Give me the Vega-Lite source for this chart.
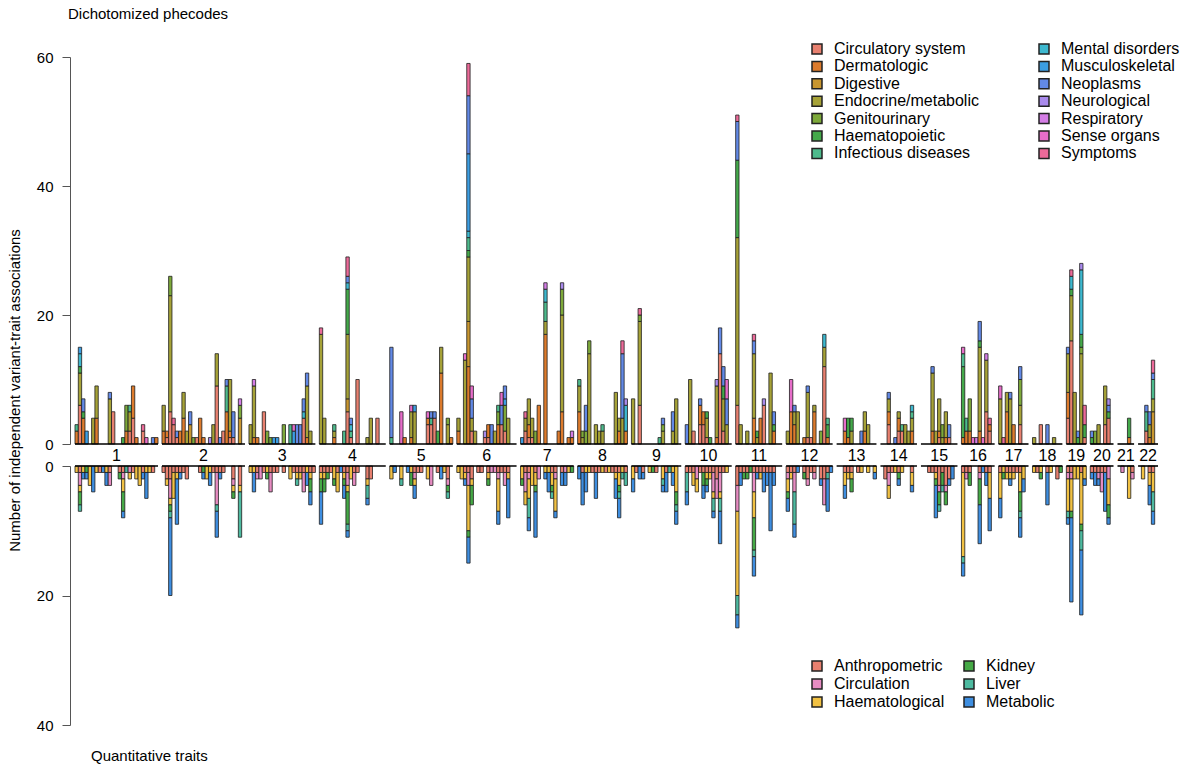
{
  "$schema": "https://vega.github.io/schema/vega-lite/v6.json",
  "background": "white",
  "padding": {"left": 7, "top": 7, "right": 5, "bottom": 5},
  "bounds": "flush",
  "spacing": 22,
  "config": {
    "font": "Liberation Sans",
    "view": {"stroke": null},
    "axis": {"grid": false, "labelFontSize": 15, "labelColor": "#000", "tickSize": 8, "labelPadding": 9, "domainColor": "#555", "tickColor": "#555", "titleFontWeight": "normal", "titleFontSize": 15, "titleColor": "#000"},
    "legend": {"labelFontSize": 16, "labelColor": "#000", "symbolType": "square", "symbolSize": 100, "symbolStrokeColor": "#222", "symbolStrokeWidth": 1.5, "symbolOpacity": 1, "labelOffset": 9, "rowPadding": 1.4}
  },
  "datasets": {
    "phe": [
      {"g":0.5,"Dermatologic":2,"Infectious diseases":1},
      {"g":1.5,"Circulatory system":6,"Endocrine/metabolic":5,"Haematopoietic":1,"Mental disorders":2,"Musculoskeletal":1},
      {"g":2.5,"Dermatologic":4,"Haematopoietic":1,"Neoplasms":2},
      {"g":3.5,"Musculoskeletal":2},
      {"g":5.5,"Endocrine/metabolic":4},
      {"g":6.5,"Dermatologic":4,"Endocrine/metabolic":5},
      {"g":10.5,"Endocrine/metabolic":7,"Neoplasms":1},
      {"g":11.5,"Circulatory system":5},
      {"g":14.5,"Haematopoietic":1},
      {"g":15.5,"Dermatologic":2,"Genitourinary":4},
      {"g":16.5,"Circulatory system":2,"Infectious diseases":1,"Endocrine/metabolic":3},
      {"g":17.5,"Circulatory system":4,"Dermatologic":5},
      {"g":18.5,"Dermatologic":1},
      {"g":20.5,"Circulatory system":2,"Symptoms":1},
      {"g":21.5,"Sense organs":1},
      {"g":23.5,"Neoplasms":1},
      {"g":24.5,"Dermatologic":1},
      {"g":26.7,"Dermatologic":2,"Endocrine/metabolic":4},
      {"g":27.7,"Circulatory system":1,"Dermatologic":1},
      {"g":28.7,"Circulatory system":5,"Endocrine/metabolic":18,"Genitourinary":3},
      {"g":29.7,"Circulatory system":3,"Symptoms":1},
      {"g":30.7,"Circulatory system":1,"Neoplasms":1},
      {"g":31.7,"Dermatologic":2},
      {"g":32.7,"Dermatologic":4,"Endocrine/metabolic":4},
      {"g":33.7,"Endocrine/metabolic":2},
      {"g":34.7,"Digestive":3,"Neoplasms":2},
      {"g":35.7,"Genitourinary":1},
      {"g":36.7,"Circulatory system":1},
      {"g":37.7,"Dermatologic":4},
      {"g":38.7,"Dermatologic":1},
      {"g":40.7,"Neurological":1},
      {"g":41.7,"Endocrine/metabolic":3},
      {"g":42.7,"Circulatory system":9,"Endocrine/metabolic":5},
      {"g":43.7,"Neoplasms":1},
      {"g":44.7,"Circulatory system":2},
      {"g":45.7,"Dermatologic":5,"Infectious diseases":4,"Neoplasms":1},
      {"g":46.7,"Circulatory system":1,"Dermatologic":1,"Endocrine/metabolic":8},
      {"g":47.7,"Circulatory system":1,"Neoplasms":4},
      {"g":49.7,"Digestive":4,"Genitourinary":2,"Respiratory":1},
      {"g":52.9,"Endocrine/metabolic":3},
      {"g":53.9,"Dermatologic":1,"Endocrine/metabolic":8,"Respiratory":1},
      {"g":54.9,"Dermatologic":1},
      {"g":56.9,"Circulatory system":5},
      {"g":57.9,"Genitourinary":2},
      {"g":58.9,"Genitourinary":1},
      {"g":59.9,"Musculoskeletal":1},
      {"g":60.9,"Musculoskeletal":1},
      {"g":62.9,"Genitourinary":3},
      {"g":64.9,"Infectious diseases":3},
      {"g":65.9,"Musculoskeletal":2,"Sense organs":1},
      {"g":66.9,"Neoplasms":3},
      {"g":67.9,"Neoplasms":3},
      {"g":68.9,"Circulatory system":4,"Mental disorders":1,"Neoplasms":2},
      {"g":69.9,"Dermatologic":1,"Endocrine/metabolic":8,"Neoplasms":2},
      {"g":70.9,"Endocrine/metabolic":2},
      {"g":74.1,"Endocrine/metabolic":17,"Symptoms":1},
      {"g":75.1,"Endocrine/metabolic":4},
      {"g":78.1,"Dermatologic":1,"Endocrine/metabolic":1,"Infectious diseases":1},
      {"g":81.1,"Infectious diseases":2},
      {"g":82.1,"Circulatory system":5,"Digestive":2,"Endocrine/metabolic":10,"Haematopoietic":7,"Mental disorders":1,"Neoplasms":1,"Symptoms":3},
      {"g":83.1,"Circulatory system":1,"Infectious diseases":1,"Mental disorders":1,"Neoplasms":1},
      {"g":85.1,"Circulatory system":10},
      {"g":88.1,"Endocrine/metabolic":1},
      {"g":89.1,"Endocrine/metabolic":4},
      {"g":91.1,"Circulatory system":4},
      {"g":95.3,"Infectious diseases":1,"Neoplasms":14},
      {"g":98.3,"Sense organs":5},
      {"g":99.3,"Dermatologic":1},
      {"g":101.3,"Dermatologic":1,"Endocrine/metabolic":4,"Sense organs":1},
      {"g":102.3,"Musculoskeletal":1,"Endocrine/metabolic":5},
      {"g":106.3,"Circulatory system":3,"Dermatologic":1,"Sense organs":1},
      {"g":107.3,"Circulatory system":3,"Infectious diseases":1,"Neoplasms":1},
      {"g":108.3,"Circulatory system":4,"Neoplasms":1},
      {"g":109.3,"Haematopoietic":2},
      {"g":110.3,"Dermatologic":11,"Endocrine/metabolic":4},
      {"g":112.3,"Genitourinary":1,"Endocrine/metabolic":3},
      {"g":113.3,"Dermatologic":1},
      {"g":115.5,"Dermatologic":2,"Endocrine/metabolic":2},
      {"g":117.5,"Endocrine/metabolic":13,"Sense organs":1},
      {"g":118.5,"Dermatologic":12,"Digestive":7,"Endocrine/metabolic":10,"Haematopoietic":1,"Infectious diseases":2,"Mental disorders":1,"Musculoskeletal":12,"Neoplasms":9,"Symptoms":5},
      {"g":119.5,"Circulatory system":2,"Endocrine/metabolic":2,"Neoplasms":3,"Sense organs":2},
      {"g":120.5,"Endocrine/metabolic":2},
      {"g":123.5,"Circulatory system":1,"Neurological":1},
      {"g":124.5,"Circulatory system":1,"Dermatologic":2},
      {"g":125.5,"Neoplasms":3},
      {"g":126.5,"Endocrine/metabolic":2},
      {"g":127.5,"Dermatologic":3,"Genitourinary":2,"Infectious diseases":1},
      {"g":128.5,"Circulatory system":3,"Neoplasms":3,"Sense organs":2},
      {"g":129.5,"Circulatory system":2,"Genitourinary":4,"Musculoskeletal":1,"Neoplasms":2},
      {"g":130.5,"Endocrine/metabolic":4},
      {"g":134.7,"Musculoskeletal":1},
      {"g":135.7,"Circulatory system":2,"Endocrine/metabolic":2,"Symptoms":1},
      {"g":136.7,"Circulatory system":1,"Dermatologic":2,"Endocrine/metabolic":4},
      {"g":137.7,"Circulatory system":1,"Endocrine/metabolic":3},
      {"g":138.7,"Genitourinary":2},
      {"g":139.7,"Dermatologic":6},
      {"g":141.7,"Dermatologic":17,"Endocrine/metabolic":2,"Infectious diseases":3,"Mental disorders":2,"Respiratory":1},
      {"g":145.7,"Dermatologic":2},
      {"g":146.7,"Dermatologic":5,"Genitourinary":4,"Endocrine/metabolic":15,"Neurological":1},
      {"g":148.7,"Dermatologic":1},
      {"g":149.7,"Dermatologic":1,"Respiratory":1},
      {"g":151.9,"Dermatologic":5,"Infectious diseases":1,"Endocrine/metabolic":4},
      {"g":152.9,"Genitourinary":1,"Endocrine/metabolic":1},
      {"g":153.9,"Genitourinary":2,"Neoplasms":4},
      {"g":154.9,"Endocrine/metabolic":14,"Genitourinary":2},
      {"g":156.9,"Endocrine/metabolic":3},
      {"g":157.9,"Endocrine/metabolic":2},
      {"g":158.9,"Infectious diseases":1,"Endocrine/metabolic":2},
      {"g":162.9,"Endocrine/metabolic":8},
      {"g":163.9,"Dermatologic":2,"Endocrine/metabolic":2},
      {"g":164.9,"Endocrine/metabolic":4,"Neoplasms":10,"Symptoms":2},
      {"g":165.9,"Dermatologic":2,"Mental disorders":4,"Neurological":1},
      {"g":168.1,"Endocrine/metabolic":7},
      {"g":170.1,"Circulatory system":6,"Genitourinary":1,"Endocrine/metabolic":13,"Symptoms":1},
      {"g":176.1,"Infectious diseases":1},
      {"g":177.1,"Genitourinary":1,"Endocrine/metabolic":2,"Neoplasms":1},
      {"g":180.1,"Endocrine/metabolic":2,"Neoplasms":3},
      {"g":181.1,"Endocrine/metabolic":7},
      {"g":184.3,"Neoplasms":3},
      {"g":185.3,"Endocrine/metabolic":10},
      {"g":186.3,"Circulatory system":2},
      {"g":188.3,"Circulatory system":3,"Dermatologic":3,"Neoplasms":1},
      {"g":189.3,"Circulatory system":3,"Dermatologic":2},
      {"g":190.3,"Circulatory system":1,"Endocrine/metabolic":3,"Haematopoietic":1},
      {"g":191.3,"Haematopoietic":1},
      {"g":193.3,"Dermatologic":1,"Endocrine/metabolic":8,"Neurological":1},
      {"g":194.3,"Circulatory system":14,"Neoplasms":4},
      {"g":195.3,"Circulatory system":2,"Endocrine/metabolic":5,"Haematopoietic":2,"Neoplasms":3},
      {"g":196.3,"Endocrine/metabolic":3,"Neoplasms":4,"Sense organs":3},
      {"g":199.5,"Circulatory system":6,"Endocrine/metabolic":26,"Neoplasms":6,"Symptoms":1,"Haematopoietic":12},
      {"g":200.5,"Endocrine/metabolic":3},
      {"g":202.5,"Endocrine/metabolic":2},
      {"g":204.5,"Dermatologic":4,"Endocrine/metabolic":10,"Neoplasms":2,"Symptoms":1},
      {"g":205.5,"Haematopoietic":1,"Endocrine/metabolic":1},
      {"g":206.5,"Dermatologic":4},
      {"g":207.5,"Circulatory system":6,"Neurological":1},
      {"g":209.5,"Endocrine/metabolic":11},
      {"g":210.5,"Dermatologic":2,"Haematopoietic":1,"Neoplasms":2},
      {"g":214.7,"Endocrine/metabolic":2},
      {"g":215.7,"Dermatologic":5,"Sense organs":5},
      {"g":216.7,"Dermatologic":3,"Endocrine/metabolic":2,"Neoplasms":1},
      {"g":217.7,"Endocrine/metabolic":5},
      {"g":219.7,"Dermatologic":1},
      {"g":220.7,"Circulatory system":1,"Endocrine/metabolic":7,"Neoplasms":1},
      {"g":221.7,"Circulatory system":1},
      {"g":222.7,"Dermatologic":5,"Endocrine/metabolic":1},
      {"g":224.7,"Genitourinary":2},
      {"g":225.7,"Circulatory system":12,"Mental disorders":2,"Endocrine/metabolic":3},
      {"g":226.7,"Dermatologic":1,"Haematopoietic":2,"Infectious diseases":1},
      {"g":231.9,"Dermatologic":2,"Sense organs":2},
      {"g":232.9,"Dermatologic":1,"Haematopoietic":3},
      {"g":233.9,"Haematopoietic":2,"Endocrine/metabolic":2},
      {"g":236.9,"Neoplasms":2},
      {"g":237.9,"Dermatologic":2,"Endocrine/metabolic":3},
      {"g":238.9,"Endocrine/metabolic":3},
      {"g":245.1,"Circulatory system":3,"Dermatologic":2,"Endocrine/metabolic":2,"Neoplasms":1},
      {"g":247.1,"Neoplasms":1},
      {"g":248.1,"Circulatory system":2,"Dermatologic":2,"Endocrine/metabolic":1},
      {"g":249.1,"Circulatory system":2,"Infectious diseases":1},
      {"g":250.1,"Endocrine/metabolic":3},
      {"g":251.1,"Endocrine/metabolic":2},
      {"g":252.1,"Dermatologic":2,"Endocrine/metabolic":2,"Infectious diseases":1,"Mental disorders":1},
      {"g":258.3,"Dermatologic":2,"Endocrine/metabolic":9,"Neoplasms":1},
      {"g":259.3,"Endocrine/metabolic":2},
      {"g":260.3,"Circulatory system":1,"Dermatologic":1,"Endocrine/metabolic":5},
      {"g":261.3,"Endocrine/metabolic":1,"Genitourinary":2},
      {"g":262.3,"Dermatologic":1,"Endocrine/metabolic":4},
      {"g":263.3,"Circulatory system":1,"Neoplasms":2},
      {"g":267.5,"Dermatologic":1,"Haematopoietic":11,"Infectious diseases":2,"Sense organs":1},
      {"g":268.5,"Dermatologic":2,"Infectious diseases":2},
      {"g":269.5,"Genitourinary":5,"Dermatologic":2},
      {"g":270.5,"Sense organs":1},
      {"g":271.5,"Respiratory":1},
      {"g":272.5,"Dermatologic":2,"Haematopoietic":1,"Endocrine/metabolic":13,"Neoplasms":3},
      {"g":273.5,"Sense organs":1},
      {"g":274.5,"Circulatory system":5,"Endocrine/metabolic":8,"Respiratory":1},
      {"g":275.5,"Circulatory system":2,"Dermatologic":1,"Symptoms":1},
      {"g":278.7,"Endocrine/metabolic":7,"Sense organs":2},
      {"g":279.7,"Symptoms":1},
      {"g":280.7,"Dermatologic":5,"Endocrine/metabolic":3},
      {"g":281.7,"Endocrine/metabolic":7,"Neoplasms":1},
      {"g":282.7,"Dermatologic":3},
      {"g":284.7,"Circulatory system":3,"Endocrine/metabolic":3,"Genitourinary":4,"Neoplasms":2},
      {"g":288.9,"Endocrine/metabolic":1},
      {"g":290.9,"Circulatory system":3},
      {"g":292.9,"Neoplasms":3},
      {"g":294.9,"Endocrine/metabolic":1},
      {"g":299.1,"Circulatory system":4,"Dermatologic":4,"Endocrine/metabolic":6,"Neoplasms":1},
      {"g":300.1,"Circulatory system":16,"Haematopoietic":1,"Mental disorders":2,"Endocrine/metabolic":7,"Symptoms":1},
      {"g":301.1,"Endocrine/metabolic":8},
      {"g":302.1,"Haematopoietic":1,"Neoplasms":1},
      {"g":303.1,"Haematopoietic":2,"Mental disorders":10,"Endocrine/metabolic":14,"Neurological":1,"Genitourinary":1},
      {"g":304.1,"Circulatory system":1,"Haematopoietic":2,"Symptoms":3},
      {"g":306.3,"Haematopoietic":1,"Neoplasms":1},
      {"g":307.3,"Genitourinary":2},
      {"g":308.3,"Endocrine/metabolic":3},
      {"g":310.3,"Circulatory system":3,"Endocrine/metabolic":6},
      {"g":311.3,"Circulatory system":4,"Haematopoietic":1,"Neoplasms":1,"Neurological":1},
      {"g":317.5,"Dermatologic":1,"Haematopoietic":3},
      {"g":322.7,"Circulatory system":2,"Infectious diseases":3,"Neoplasms":1},
      {"g":323.7,"Dermatologic":1,"Endocrine/metabolic":2,"Neoplasms":2},
      {"g":324.7,"Digestive":5,"Endocrine/metabolic":2,"Infectious diseases":3,"Symptoms":2,"Neoplasms":1}
    ],
    "qt": [
      {"g":0.5,"Haematological":1},
      {"g":1.5,"Anthropometric":1,"Circulation":2,"Haematological":1,"Kidney":2,"Liver":1},
      {"g":2.5,"Haematological":1,"Metabolic":1},
      {"g":3.5,"Kidney":1,"Metabolic":1},
      {"g":4.5,"Haematological":3},
      {"g":5.5,"Metabolic":4},
      {"g":6.5,"Haematological":1},
      {"g":7.5,"Anthropometric":1},
      {"g":8.5,"Metabolic":1},
      {"g":9.5,"Haematological":1,"Metabolic":2},
      {"g":10.5,"Anthropometric":1,"Circulation":2},
      {"g":13.5,"Anthropometric":1,"Kidney":1},
      {"g":14.5,"Anthropometric":1,"Circulation":1,"Haematological":2,"Kidney":3,"Metabolic":1},
      {"g":15.5,"Liver":1},
      {"g":16.5,"Circulation":1,"Haematological":1},
      {"g":17.5,"Anthropometric":1},
      {"g":18.5,"Haematological":2},
      {"g":19.5,"Haematological":3},
      {"g":20.5,"Anthropometric":1,"Metabolic":1},
      {"g":21.5,"Haematological":1,"Metabolic":4},
      {"g":22.5,"Haematological":1},
      {"g":23.5,"Anthropometric":1},
      {"g":26.7,"Anthropometric":1},
      {"g":27.7,"Anthropometric":2,"Haematological":1},
      {"g":28.7,"Anthropometric":2,"Circulation":3,"Haematological":1,"Kidney":1,"Liver":1,"Metabolic":12},
      {"g":29.7,"Anthropometric":1,"Haematological":4},
      {"g":30.7,"Anthropometric":1,"Haematological":1,"Metabolic":7},
      {"g":31.7,"Anthropometric":1,"Metabolic":1},
      {"g":32.7,"Anthropometric":1},
      {"g":33.7,"Anthropometric":2},
      {"g":37.7,"Anthropometric":1},
      {"g":38.7,"Kidney":1,"Metabolic":1},
      {"g":39.7,"Haematological":2},
      {"g":40.7,"Haematological":1,"Metabolic":2},
      {"g":41.7,"Anthropometric":1},
      {"g":42.7,"Anthropometric":1,"Circulation":5,"Liver":1,"Metabolic":4},
      {"g":43.7,"Anthropometric":1,"Metabolic":1},
      {"g":44.7,"Anthropometric":1},
      {"g":47.7,"Anthropometric":2,"Circulation":1,"Haematological":1,"Kidney":1},
      {"g":49.7,"Anthropometric":3,"Haematological":1,"Liver":7},
      {"g":52.9,"Haematological":1},
      {"g":53.9,"Haematological":1,"Metabolic":3},
      {"g":54.9,"Anthropometric":1,"Circulation":1},
      {"g":55.9,"Circulation":2},
      {"g":56.9,"Anthropometric":1},
      {"g":57.9,"Haematological":1,"Kidney":1},
      {"g":58.9,"Anthropometric":1,"Circulation":3},
      {"g":59.9,"Anthropometric":1},
      {"g":60.9,"Anthropometric":1},
      {"g":62.9,"Anthropometric":1},
      {"g":64.9,"Haematological":2},
      {"g":65.9,"Anthropometric":1},
      {"g":66.9,"Anthropometric":1,"Haematological":1,"Liver":1},
      {"g":67.9,"Anthropometric":1,"Haematological":1},
      {"g":68.9,"Anthropometric":1,"Circulation":3},
      {"g":69.9,"Haematological":1,"Metabolic":2},
      {"g":70.9,"Anthropometric":1,"Haematological":1,"Kidney":2,"Metabolic":2},
      {"g":71.9,"Anthropometric":1},
      {"g":74.1,"Anthropometric":1,"Haematological":1,"Kidney":2,"Metabolic":5},
      {"g":75.1,"Anthropometric":1,"Haematological":1,"Kidney":2},
      {"g":76.1,"Anthropometric":1,"Kidney":1},
      {"g":77.1,"Anthropometric":1},
      {"g":78.1,"Haematological":2,"Kidney":1},
      {"g":79.1,"Anthropometric":1,"Haematological":3},
      {"g":80.1,"Metabolic":1},
      {"g":81.1,"Anthropometric":1,"Haematological":1,"Kidney":1,"Metabolic":2},
      {"g":82.1,"Anthropometric":1,"Circulation":2,"Haematological":1,"Kidney":5,"Liver":1,"Metabolic":1},
      {"g":83.1,"Haematological":2},
      {"g":84.1,"Anthropometric":1,"Circulation":2},
      {"g":85.1,"Anthropometric":1},
      {"g":88.1,"Anthropometric":2,"Haematological":1,"Liver":2,"Metabolic":1},
      {"g":89.1,"Anthropometric":2},
      {"g":95.3,"Haematological":2},
      {"g":96.3,"Metabolic":1},
      {"g":98.3,"Haematological":2,"Liver":1},
      {"g":100.3,"Metabolic":1},
      {"g":101.3,"Haematological":1,"Kidney":2},
      {"g":102.3,"Anthropometric":1,"Circulation":1,"Haematological":1,"Metabolic":2},
      {"g":103.3,"Anthropometric":1},
      {"g":104.3,"Anthropometric":1},
      {"g":106.3,"Haematological":2},
      {"g":107.3,"Circulation":3},
      {"g":109.3,"Anthropometric":1},
      {"g":110.3,"Metabolic":2},
      {"g":111.3,"Haematological":1},
      {"g":112.3,"Anthropometric":2,"Circulation":1,"Kidney":1,"Liver":1},
      {"g":115.5,"Haematological":1},
      {"g":116.5,"Haematological":2},
      {"g":117.5,"Anthropometric":1,"Haematological":1,"Metabolic":1},
      {"g":118.5,"Anthropometric":1,"Circulation":2,"Haematological":7,"Kidney":1,"Metabolic":4},
      {"g":119.5,"Anthropometric":2,"Haematological":1,"Kidney":3},
      {"g":121.5,"Anthropometric":1},
      {"g":122.5,"Anthropometric":1},
      {"g":124.5,"Anthropometric":1,"Haematological":1,"Kidney":1},
      {"g":125.5,"Circulation":1},
      {"g":126.5,"Circulation":1},
      {"g":127.5,"Anthropometric":1,"Circulation":1,"Haematological":5,"Metabolic":2},
      {"g":128.5,"Anthropometric":1},
      {"g":129.5,"Anthropometric":1,"Circulation":2},
      {"g":130.5,"Anthropometric":1,"Haematological":1,"Metabolic":6},
      {"g":134.7,"Haematological":2,"Kidney":1},
      {"g":135.7,"Anthropometric":1,"Circulation":3,"Haematological":2},
      {"g":136.7,"Anthropometric":1,"Circulation":1,"Haematological":3,"Liver":3,"Metabolic":2},
      {"g":137.7,"Haematological":3},
      {"g":138.7,"Anthropometric":1,"Haematological":2,"Kidney":1,"Metabolic":7},
      {"g":139.7,"Circulation":2},
      {"g":141.7,"Haematological":1,"Metabolic":1},
      {"g":142.7,"Haematological":1,"Metabolic":3},
      {"g":143.7,"Anthropometric":1,"Haematological":2,"Kidney":1,"Liver":1},
      {"g":144.7,"Anthropometric":1,"Circulation":1,"Haematological":5,"Metabolic":1},
      {"g":146.7,"Anthropometric":1,"Metabolic":2},
      {"g":147.7,"Circulation":1,"Metabolic":2},
      {"g":148.7,"Haematological":1},
      {"g":149.7,"Kidney":1},
      {"g":151.9,"Metabolic":2},
      {"g":152.9,"Anthropometric":1,"Metabolic":5},
      {"g":153.9,"Haematological":1,"Metabolic":3},
      {"g":154.9,"Haematological":1},
      {"g":155.9,"Anthropometric":1},
      {"g":156.9,"Anthropometric":1,"Metabolic":4},
      {"g":157.9,"Anthropometric":1},
      {"g":158.9,"Haematological":1},
      {"g":159.9,"Anthropometric":1},
      {"g":160.9,"Haematological":1},
      {"g":161.9,"Anthropometric":1},
      {"g":162.9,"Anthropometric":1,"Haematological":1,"Metabolic":3},
      {"g":163.9,"Anthropometric":1,"Haematological":2,"Kidney":1,"Liver":1,"Metabolic":3},
      {"g":164.9,"Haematological":1,"Liver":1},
      {"g":165.9,"Anthropometric":1,"Liver":2},
      {"g":168.1,"Haematological":2,"Metabolic":2},
      {"g":169.1,"Anthropometric":1},
      {"g":170.1,"Metabolic":2},
      {"g":171.1,"Anthropometric":1,"Metabolic":1},
      {"g":173.1,"Haematological":1},
      {"g":174.1,"Kidney":1},
      {"g":175.1,"Anthropometric":1},
      {"g":177.1,"Haematological":2,"Liver":1,"Metabolic":1},
      {"g":178.1,"Anthropometric":1,"Metabolic":3},
      {"g":179.1,"Liver":1},
      {"g":180.1,"Haematological":1,"Metabolic":2},
      {"g":181.1,"Haematological":4,"Kidney":2,"Liver":1,"Metabolic":2},
      {"g":184.3,"Anthropometric":1,"Liver":3,"Metabolic":2},
      {"g":185.3,"Anthropometric":1},
      {"g":186.3,"Anthropometric":1,"Haematological":2},
      {"g":187.3,"Circulation":2,"Haematological":2},
      {"g":188.3,"Anthropometric":1},
      {"g":189.3,"Anthropometric":1,"Kidney":2,"Metabolic":2},
      {"g":190.3,"Anthropometric":1,"Haematological":1,"Kidney":1,"Metabolic":1},
      {"g":191.3,"Anthropometric":1,"Haematological":1},
      {"g":192.3,"Anthropometric":1,"Circulation":3,"Haematological":1,"Liver":2,"Metabolic":1},
      {"g":193.3,"Anthropometric":2,"Circulation":3},
      {"g":194.3,"Anthropometric":1,"Circulation":3,"Haematological":1,"Liver":2,"Metabolic":5},
      {"g":195.3,"Anthropometric":1},
      {"g":196.3,"Haematological":1},
      {"g":199.5,"Anthropometric":3,"Circulation":4,"Haematological":13,"Liver":3,"Metabolic":2},
      {"g":200.5,"Anthropometric":1,"Metabolic":2},
      {"g":201.5,"Anthropometric":1,"Kidney":1},
      {"g":202.5,"Anthropometric":1,"Kidney":1},
      {"g":203.5,"Kidney":1},
      {"g":204.5,"Anthropometric":1,"Circulation":3,"Haematological":4,"Kidney":5,"Liver":1,"Metabolic":3},
      {"g":205.5,"Anthropometric":1,"Metabolic":1},
      {"g":206.5,"Anthropometric":1,"Haematological":1},
      {"g":207.5,"Anthropometric":1,"Metabolic":3},
      {"g":208.5,"Anthropometric":1,"Metabolic":2},
      {"g":209.5,"Anthropometric":1,"Metabolic":9},
      {"g":210.5,"Anthropometric":1,"Metabolic":2},
      {"g":214.7,"Anthropometric":1,"Circulation":1,"Haematological":2,"Kidney":1,"Metabolic":2},
      {"g":215.7,"Anthropometric":1,"Haematological":1},
      {"g":216.7,"Anthropometric":1,"Circulation":3,"Liver":5,"Metabolic":2},
      {"g":217.7,"Metabolic":1},
      {"g":219.7,"Anthropometric":1,"Kidney":1},
      {"g":220.7,"Anthropometric":2,"Circulation":1},
      {"g":221.7,"Anthropometric":1},
      {"g":222.7,"Anthropometric":1,"Circulation":1},
      {"g":224.7,"Anthropometric":2,"Metabolic":1},
      {"g":225.7,"Anthropometric":2,"Circulation":4},
      {"g":226.7,"Anthropometric":1,"Liver":1,"Metabolic":5},
      {"g":227.7,"Metabolic":1},
      {"g":231.9,"Anthropometric":1,"Haematological":2,"Metabolic":2},
      {"g":232.9,"Anthropometric":1,"Haematological":1},
      {"g":233.9,"Anthropometric":1,"Haematological":1,"Kidney":2},
      {"g":235.9,"Anthropometric":1},
      {"g":236.9,"Haematological":1},
      {"g":238.9,"Haematological":1},
      {"g":240.9,"Haematological":1,"Metabolic":1},
      {"g":244.1,"Anthropometric":2},
      {"g":245.1,"Anthropometric":1,"Circulation":2,"Haematological":2},
      {"g":246.1,"Anthropometric":1},
      {"g":247.1,"Haematological":1},
      {"g":248.1,"Anthropometric":1,"Kidney":1,"Metabolic":1},
      {"g":249.1,"Haematological":1},
      {"g":252.1,"Anthropometric":1,"Haematological":2,"Metabolic":1},
      {"g":257.3,"Anthropometric":1},
      {"g":258.3,"Anthropometric":1},
      {"g":259.3,"Anthropometric":1,"Haematological":1,"Kidney":1,"Metabolic":5},
      {"g":260.3,"Anthropometric":3,"Circulation":1,"Kidney":2,"Liver":1},
      {"g":261.3,"Anthropometric":1,"Kidney":2,"Liver":1},
      {"g":262.3,"Anthropometric":3,"Circulation":1,"Kidney":2},
      {"g":263.3,"Anthropometric":2,"Metabolic":1},
      {"g":264.3,"Metabolic":2},
      {"g":267.5,"Anthropometric":1,"Haematological":13,"Liver":1,"Metabolic":2},
      {"g":268.5,"Anthropometric":1,"Circulation":1},
      {"g":269.5,"Anthropometric":1,"Kidney":2},
      {"g":272.5,"Anthropometric":1,"Circulation":1,"Kidney":4,"Metabolic":6},
      {"g":273.5,"Metabolic":1},
      {"g":274.5,"Anthropometric":1,"Metabolic":2},
      {"g":275.5,"Anthropometric":1,"Haematological":4,"Metabolic":5},
      {"g":278.7,"Anthropometric":1,"Haematological":4,"Metabolic":3},
      {"g":279.7,"Haematological":1,"Kidney":1},
      {"g":280.7,"Anthropometric":1,"Haematological":1},
      {"g":281.7,"Anthropometric":1,"Haematological":1,"Metabolic":1},
      {"g":282.7,"Anthropometric":1,"Haematological":1},
      {"g":283.7,"Anthropometric":1},
      {"g":284.7,"Anthropometric":1,"Haematological":3,"Kidney":3,"Liver":1,"Metabolic":3},
      {"g":285.7,"Haematological":2,"Metabolic":2},
      {"g":288.9,"Haematological":1},
      {"g":289.9,"Anthropometric":1},
      {"g":290.9,"Haematological":1,"Kidney":1},
      {"g":292.9,"Anthropometric":1,"Metabolic":5},
      {"g":293.9,"Haematological":1},
      {"g":295.9,"Anthropometric":2},
      {"g":296.9,"Kidney":1},
      {"g":299.1,"Anthropometric":1,"Circulation":1,"Haematological":5,"Liver":1,"Metabolic":1},
      {"g":300.1,"Anthropometric":1,"Circulation":1,"Haematological":5,"Kidney":1,"Metabolic":13},
      {"g":301.1,"Haematological":2},
      {"g":302.1,"Haematological":2},
      {"g":303.1,"Anthropometric":1,"Haematological":8,"Kidney":1,"Liver":3,"Metabolic":10},
      {"g":304.1,"Haematological":2,"Metabolic":1},
      {"g":306.3,"Anthropometric":1,"Metabolic":1},
      {"g":307.3,"Anthropometric":1,"Metabolic":2},
      {"g":308.3,"Anthropometric":1,"Circulation":1,"Metabolic":1},
      {"g":309.3,"Anthropometric":1,"Circulation":3},
      {"g":310.3,"Anthropometric":1,"Metabolic":6},
      {"g":311.3,"Circulation":2,"Haematological":4,"Kidney":2,"Metabolic":1},
      {"g":315.5,"Circulation":1},
      {"g":317.5,"Haematological":5},
      {"g":318.5,"Anthropometric":1,"Circulation":1},
      {"g":321.7,"Haematological":2},
      {"g":323.7,"Anthropometric":1,"Haematological":2,"Metabolic":3},
      {"g":324.7,"Anthropometric":1,"Haematological":3,"Liver":3,"Metabolic":2}
    ],
    "chrom": [
      {"chr":"1","start":0,"end":25,"mid":12.5},
      {"chr":"2","start":26.2,"end":51.2,"mid":38.7},
      {"chr":"3","start":52.4,"end":72.4,"mid":62.4},
      {"chr":"4","start":73.6,"end":93.6,"mid":83.6},
      {"chr":"5","start":94.8,"end":113.8,"mid":104.3},
      {"chr":"6","start":115,"end":133,"mid":124},
      {"chr":"7","start":134.2,"end":150.2,"mid":142.2},
      {"chr":"8","start":151.4,"end":166.4,"mid":158.9},
      {"chr":"9","start":167.6,"end":182.6,"mid":175.1},
      {"chr":"10","start":183.8,"end":197.8,"mid":190.8},
      {"chr":"11","start":199,"end":213,"mid":206},
      {"chr":"12","start":214.2,"end":228.2,"mid":221.2},
      {"chr":"13","start":229.4,"end":241.4,"mid":235.4},
      {"chr":"14","start":242.6,"end":253.6,"mid":248.1},
      {"chr":"15","start":254.8,"end":265.8,"mid":260.3},
      {"chr":"16","start":267,"end":277,"mid":272},
      {"chr":"17","start":278.2,"end":287.2,"mid":282.7},
      {"chr":"18","start":288.4,"end":297.4,"mid":292.9},
      {"chr":"19","start":298.6,"end":304.6,"mid":301.6},
      {"chr":"20","start":305.8,"end":312.8,"mid":309.3},
      {"chr":"21","start":314,"end":319,"mid":316.5},
      {"chr":"22","start":320.2,"end":326.2,"mid":323.2}
    ]
  },
  "vconcat": [
    {
      "width": 1093,
      "height": 387,
      "title": {"text": "Dichotomized phecodes", "anchor": "start", "frame": "group", "fontSize": 15, "fontWeight": "normal", "offset": 19, "dx": -2},
      "layer": [
        {
          "data": {"name": "phe"},
          "transform": [
            {"fold": ["Circulatory system","Dermatologic","Digestive","Endocrine/metabolic","Genitourinary","Haematopoietic","Infectious diseases","Mental disorders","Musculoskeletal","Neoplasms","Neurological","Respiratory","Sense organs","Symptoms"], "as": ["category","n"]},
            {"filter": "datum.n > 0"}
          ],
          "mark": {"type": "bar", "width": 3.35, "stroke": "#1e1e1e", "strokeWidth": 0.8},
          "encoding": {
            "x": {"field": "g", "type": "quantitative", "scale": {"domain": [0, 326.2], "nice": false, "zero": false}, "axis": null},
            "y": {"field": "n", "type": "quantitative", "stack": "zero", "scale": {"domain": [0, 60], "nice": false},
                  "axis": {"values": [0, 20, 40, 60], "title": "Number of independent variant-trait associations", "titleY": 333, "titlePadding": 14}},
            "order": {"field": "category", "sort": "ascending"},
            "color": {"field": "category", "type": "nominal",
              "scale": {"domain": ["Circulatory system","Dermatologic","Digestive","Endocrine/metabolic","Genitourinary","Haematopoietic","Infectious diseases","Mental disorders","Musculoskeletal","Neoplasms","Neurological","Respiratory","Sense organs","Symptoms"],
                        "range": ["#E8806F","#DD7B2C","#C9962F","#A6A237","#7DA93A","#44A94A","#4DBA8C","#3DB8CF","#3C9EE3","#6289E6","#A98AEC","#D47DE5","#E66DC9","#EC6A99"]},
              "legend": {"title": null, "orient": "none", "legendX": 739, "legendY": -16, "columns": 2, "columnPadding": 57}}
          }
        },
        {
          "data": {"name": "chrom"},
          "mark": {"type": "rule", "color": "#000", "strokeWidth": 1.6},
          "encoding": {"x": {"field": "start", "type": "quantitative"}, "x2": {"field": "end"}, "y": {"datum": 0}}
        },
        {
          "data": {"name": "chrom"},
          "mark": {"type": "text", "fontSize": 16, "baseline": "middle", "dy": 12, "color": "#000"},
          "encoding": {"x": {"field": "mid", "type": "quantitative"}, "y": {"datum": 0}, "text": {"field": "chr"}}
        }
      ]
    },
    {
      "width": 1093,
      "height": 259,
      "title": {"text": "Quantitative traits", "orient": "bottom", "anchor": "start", "frame": "group", "fontSize": 15, "fontWeight": "normal", "offset": 16, "dx": 21},
      "layer": [
        {
          "data": {"name": "qt"},
          "transform": [
            {"fold": ["Anthropometric","Circulation","Haematological","Kidney","Liver","Metabolic"], "as": ["category","n"]},
            {"filter": "datum.n > 0"}
          ],
          "mark": {"type": "bar", "width": 3.35, "stroke": "#1e1e1e", "strokeWidth": 0.8},
          "encoding": {
            "x": {"field": "g", "type": "quantitative", "scale": {"domain": [0, 326.2], "nice": false, "zero": false}, "axis": null},
            "y": {"field": "n", "type": "quantitative", "stack": "zero", "scale": {"domain": [0, 40], "nice": false, "reverse": true},
                  "axis": {"values": [0, 20, 40], "title": null}},
            "order": {"field": "category", "sort": "ascending"},
            "color": {"field": "category", "type": "nominal",
              "scale": {"domain": ["Anthropometric","Circulation","Haematological","Kidney","Liver","Metabolic"],
                        "range": ["#E8806F","#E78CC2","#F1C143","#45A946","#4DBAA0","#3E8EE0"]},
              "legend": {"title": null, "orient": "none", "legendX": 739, "legendY": 192, "columns": 2, "columnPadding": 16, "rowPadding": 2}}
          }
        },
        {
          "data": {"name": "chrom"},
          "mark": {"type": "rule", "color": "#000", "strokeWidth": 1.6},
          "encoding": {"x": {"field": "start", "type": "quantitative"}, "x2": {"field": "end"}, "y": {"datum": 0}}
        }
      ]
    }
  ],
  "resolve": {"scale": {"color": "independent", "y": "independent"}}
}
